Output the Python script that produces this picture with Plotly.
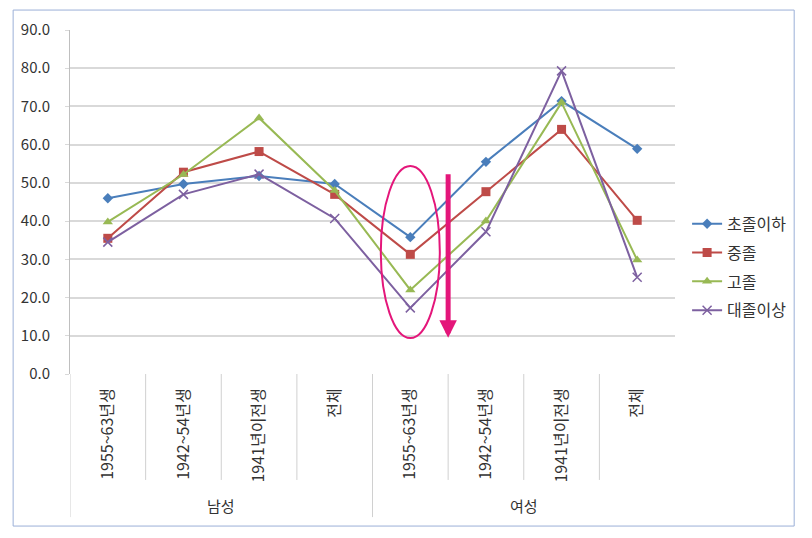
import plotly.graph_objects as go

# categories
groups = ["남성", "여성"]
cohorts = ["1955~63년생", "1942~54년생", "1941년이전생", "전체",
           "1955~63년생", "1942~54년생", "1941년이전생", "전체"]

# series values (%)
elem = [46.0, 49.7, 51.8, 49.7, 35.8, 55.5, 71.4, 58.9]
middle = [35.5, 52.8, 58.2, 47.0, 31.3, 47.7, 64.0, 40.2]
high = [39.8, 52.2, 67.0, 48.0, 22.0, 40.0, 71.0, 29.8]
college = [34.5, 47.0, 52.3, 40.7, 17.3, 37.2, 79.3, 25.3]

series_names = ["초졸이하", "중졸", "고졸", "대졸이상"]
y_ticks = [0, 10, 20, 30, 40, 50, 60, 70, 80, 90]

FONT = "Noto Sans CJK KR"
pos = list(range(len(cohorts)))

fig = go.Figure()
styles = [
    (elem, "#4A7EBB", dict(symbol="diamond", size=8)),
    (middle, "#BE4B48", dict(symbol="square", size=9)),
    (high, "#98B954", dict(symbol="triangle-up", size=9)),
    (college, "#7D60A0", dict(symbol="x-thin", size=9, line=dict(width=1.5, color="#7D60A0"))),
]
for name, (vals, color, marker) in zip(series_names, styles):
    fig.add_trace(go.Scatter(
        x=pos, y=vals, name=name, mode="lines+markers", legendgroup=name,
        line=dict(color=color, width=2),
        marker=dict(color=color, **marker),
    ))

# category boundary lines below the axis (group boundaries run longer)
n_per_group = len(cohorts) // len(groups)
for i in range(len(cohorts)):
    b = i - 0.5
    long_line = i % n_per_group == 0
    fig.add_shape(type="line", xref="x", yref="paper", x0=b, x1=b, y0=0,
                  y1=-0.416 if long_line else -0.308,
                  line=dict(color="#D0D0D0", width=1))
# group labels
for g, name in enumerate(groups):
    fig.add_annotation(x=g * n_per_group + (n_per_group - 1) / 2, y=-0.381, xref="x", yref="paper",
                       yanchor="middle", text=name, showarrow=False,
                       font=dict(size=15, color="#333333"))

pink = "#E4167A"
# ellipse around 1955~63 female group
fig.add_shape(type="circle", xref="x", yref="y", x0=3.61, x1=4.39, y0=9.4, y1=54.4,
              line=dict(color=pink, width=2))
# downward arrow at the boundary
fig.add_annotation(x=4.5, y=9.5, xref="x", yref="y", ax=0, ay=-165, text="",
                   showarrow=True, arrowhead=2, arrowsize=0.7, arrowwidth=5, arrowcolor=pink)

# outer frame
fig.add_shape(type="rect", xref="paper", yref="paper", x0=-0.094, x1=1.197, y0=-0.442, y1=1.058,
              line=dict(color="#9BB0D8", width=1))

# page body has an 8px margin, so the figure is shrunk to fit the window
fig.update_layout(
    width=796, height=522,
    margin=dict(l=62, r=126, t=22, b=156),
    paper_bgcolor="white", plot_bgcolor="white",
    font=dict(family=FONT, size=15, color="#333333"),
    showlegend=True,
    legend=dict(x=1.02, y=0.31, yanchor="middle", xanchor="left", itemwidth=30,
                font=dict(size=16, color="#333333"), tracegroupgap=5),
)
fig.update_yaxes(range=[0, 90], tickvals=y_ticks, tickformat=".1f", automargin=False,
                 showgrid=True, gridcolor="#D9D9D9", gridwidth=1.5,
                 showline=True, linecolor="#BFBFBF", linewidth=1,
                 ticks="outside", ticklen=4, tickcolor="#D9D9D9", zeroline=False,
                 ticklabelstandoff=12, tickfont=dict(size=15))
fig.update_xaxes(range=[-0.5, len(cohorts) - 0.5], tickvals=pos, ticktext=cohorts,
                 tickangle=-90, ticks="", ticklabelstandoff=10, automargin=False,
                 showgrid=False, showline=False, zeroline=False, tickfont=dict(size=16))

fig.write_html("out.html")
